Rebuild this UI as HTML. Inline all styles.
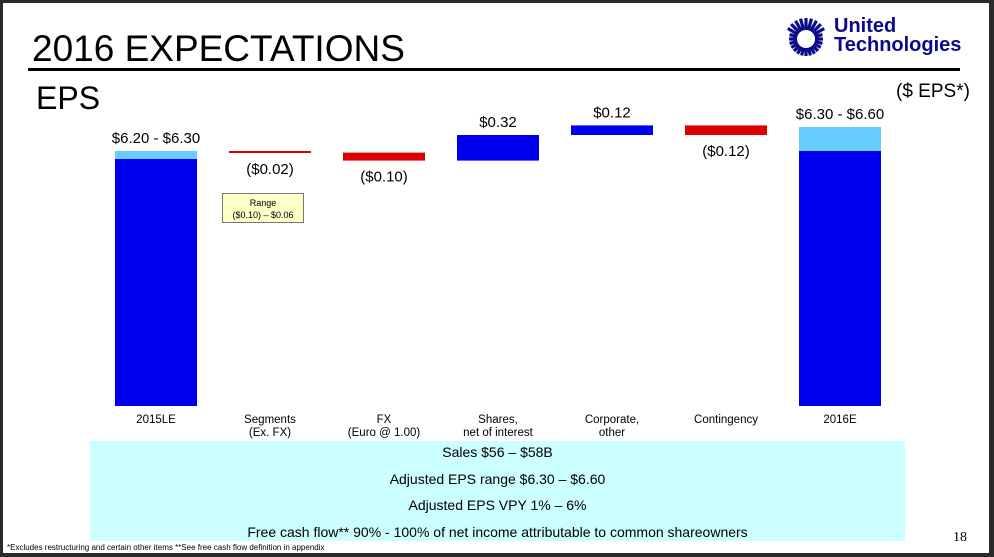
<!DOCTYPE html>
<html><head><meta charset="utf-8"><style>
body{margin:0;background:#2b2b2b;}
#slide{position:absolute;left:3px;top:3px;width:986px;height:550px;background:#fff;font-family:"Liberation Sans",sans-serif;overflow:hidden}
.t{position:absolute;white-space:nowrap}
</style></head><body>
<div id="slide">
<div class="t" style="left:29px;top:25px;font-size:37px;color:#000">2016 EXPECTATIONS</div>
<div style="position:absolute;left:25px;top:65px;width:932px;height:3px;background:#000"></div>
<div class="t" style="left:33px;top:77px;font-size:32px">EPS</div>
<div class="t" style="left:893px;top:78px;font-size:19px">($ EPS*)</div>
<div style="position:absolute;left:778px;top:14px;">
<svg width="50" height="45" viewBox="-25 -22 50 45"><g stroke="#0a0a8a" stroke-width="3.2" id="rays"></g><circle r="8" fill="#fff"/></svg>
</div>
<div class="t" style="left:831px;top:14px;font-size:20px;font-weight:bold;color:#0a0a8a;line-height:19px">United<br>Technologies</div>
<svg id="chart" width="986" height="550" style="position:absolute;left:0;top:0"></svg>
<div style="position:absolute;left:219px;top:190px;width:82px;height:30px;background:#ffffc8;border:1px solid #777;font-size:9px;text-align:center;line-height:12px;padding-top:3px;box-sizing:border-box">Range<br>($0.10) – $0.06</div>
<div style="position:absolute;left:87px;top:438px;width:815px;height:100px;background:#ccffff;font-size:14px;text-align:center">
<div class="t" style="left:0;right:0;top:3px">Sales $56 – $58B</div>
<div class="t" style="left:0;right:0;top:30px">Adjusted EPS range $6.30 – $6.60</div>
<div class="t" style="left:0;right:0;top:56px">Adjusted EPS VPY 1% – 6%</div>
<div class="t" style="left:0;right:0;top:83px">Free cash flow** 90% - 100% of net income attributable to common shareowners</div>
</div>
<div class="t" style="left:950px;top:527px;font-size:14px;font-family:'Liberation Serif',serif">18</div>
<div class="t" style="left:4px;top:540px;font-size:8px">*Excludes restructuring and certain other items **See free cash flow definition in appendix</div>
</div>
<script>
const categories=["2015LE","Segments|(Ex. FX)","FX|(Euro @ 1.00)","Shares,|net of interest","Corporate,|other","Contingency","2016E"];
const lowVals=[6.20,6.30,6.28,6.18,6.50,6.62,6.30];
const highVals=[6.30,6.28,6.18,6.50,6.62,6.50,6.60];
const valueLabels=["$6.20 - $6.30","($0.02)","($0.10)","$0.32","$0.12","($0.12)","$6.30 - $6.60"];
const kinds=["total","neg","neg","pos","pos","neg","total"];
const NS="http://www.w3.org/2000/svg",svg=document.getElementById('chart');
const base=3.1125,k=80,y0=403;
function y(v){return y0-(v-base)*k;}
function x(i){return 153+i*114;}
const bw=82;
function el(t,a){const e=document.createElementNS(NS,t);for(const n in a)e.setAttribute(n,a[n]);svg.appendChild(e);return e;}
categories.forEach((c,i)=>{
 const cx=x(i),lo=lowVals[i],hi=highVals[i];
 if(kinds[i]=="total"){
  const r=el('rect',{x:cx-bw/2,y:y(lo),width:bw,height:y0-y(lo),fill:'#0000ee'});
  
  
  const r2=el('rect',{x:cx-bw/2,y:y(hi),width:bw,height:y(lo)-y(hi),fill:'#66ccff'});
  
  
  const t=el('text',{x:cx,y:y(hi)-8,'text-anchor':'middle','font-size':15});t.textContent=valueLabels[i];
  
  
 } else {
  const top=Math.min(y(lo),y(hi)),h=Math.max(2,Math.abs(y(lo)-y(hi)));
  const r=el('rect',{x:cx-bw/2,y:top,width:bw,height:h,fill:kinds[i]=="neg"?'#dd0000':'#0000ee'});
  
  
  const ly=kinds[i]=="neg"?top+h+21:top-8;
  const t=el('text',{x:cx,y:ly,'text-anchor':'middle','font-size':15});t.textContent=valueLabels[i];
  
  
 }
 c.split('|').forEach((s,j)=>{const t=el('text',{x:cx,y:420+j*13,'text-anchor':'middle','font-size':11.5});t.textContent=s;
  
  });
});
const g=document.getElementById('rays');
for(let a=0;a<360;a+=15){const r=a*Math.PI/180;const l=document.createElementNS(NS,'line');
l.setAttribute('x1',Math.cos(r)*9);l.setAttribute('y1',Math.sin(r)*9);l.setAttribute('x2',Math.cos(r)*(a>200&&a<340?21:17));l.setAttribute('y2',Math.sin(r)*(a>200&&a<340?21:17));g.appendChild(l);}
</script>
</body></html>
